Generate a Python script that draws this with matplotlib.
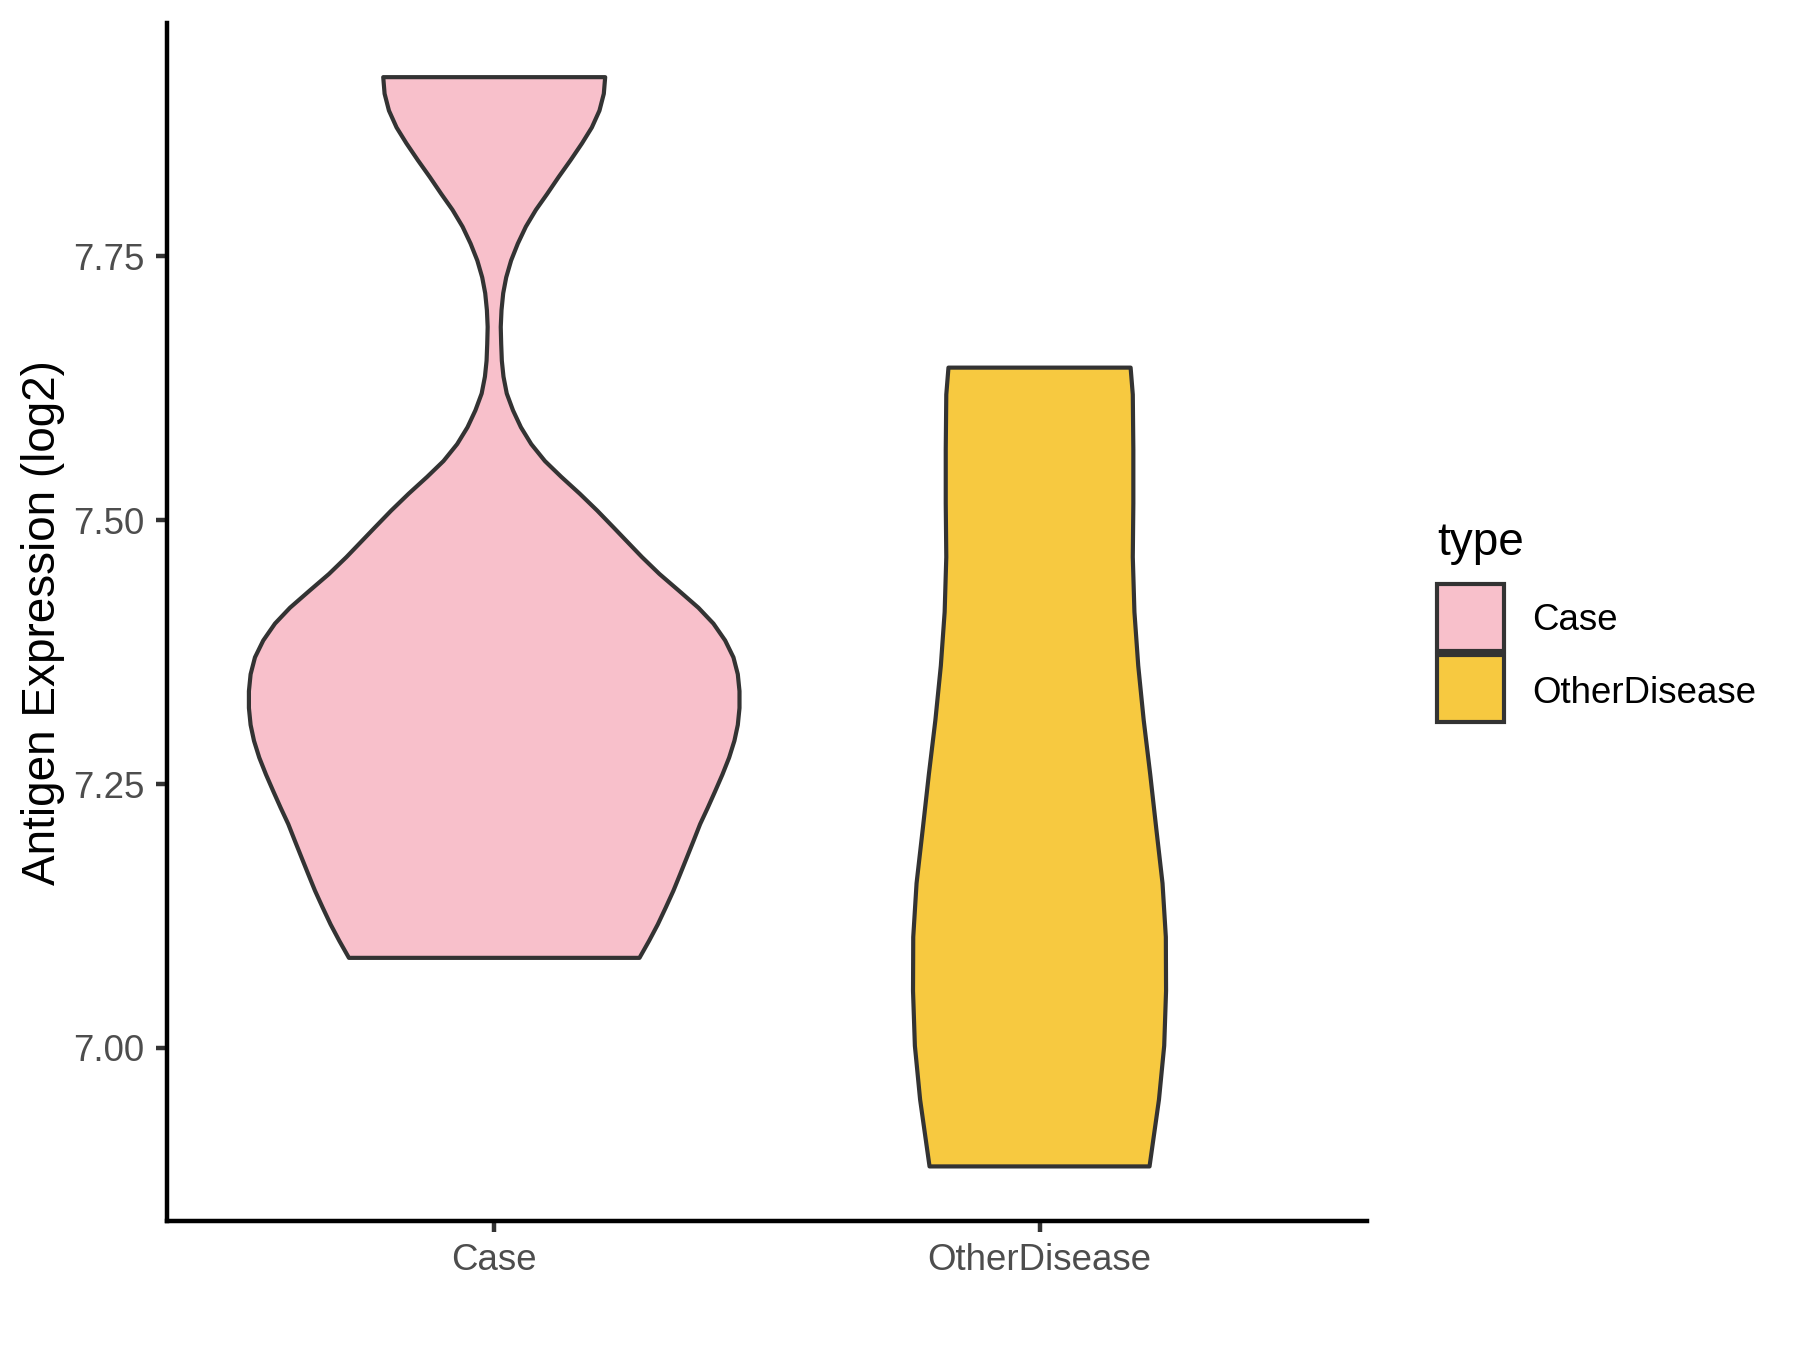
import numpy as np
import matplotlib
matplotlib.use("Agg")
import matplotlib.pyplot as plt
from matplotlib.patches import Rectangle

plt.rcParams['font.family'] = ['Liberation Sans', 'DejaVu Sans']

# groups and their fill colours
groups = ["Case", "OtherDisease"]
colors = ["#F8C0CB", "#F7C940"]

# violin outlines: y value -> half width (x units)
case_y = [7.0853, 7.1014, 7.117, 7.133, 7.149, 7.1646, 7.180, 7.196, 7.212,
          7.2275, 7.243, 7.259, 7.275, 7.291, 7.306, 7.322, 7.338, 7.354,
          7.370, 7.386, 7.402, 7.417, 7.433, 7.449, 7.465, 7.4806, 7.493,
          7.509, 7.525, 7.541, 7.556, 7.572, 7.588, 7.604, 7.620, 7.636,
          7.651, 7.667, 7.683, 7.699, 7.715, 7.730, 7.746, 7.762, 7.778,
          7.794, 7.809, 7.825, 7.841, 7.857, 7.872, 7.888, 7.904, 7.9197]
case_w = [0.2664, 0.284, 0.300, 0.3146, 0.3287, 0.341, 0.353, 0.3654, 0.3776,
          0.3916, 0.405, 0.4185, 0.4308, 0.4405, 0.4467, 0.4498, 0.4498, 0.4467,
          0.4387, 0.4235, 0.402, 0.3745, 0.339, 0.303, 0.271, 0.242, 0.219,
          0.189, 0.157, 0.123, 0.093, 0.068, 0.049, 0.0345, 0.023, 0.017,
          0.014, 0.0128, 0.012, 0.0134, 0.0165, 0.022, 0.031, 0.0433, 0.058,
          0.0765, 0.097, 0.118, 0.140, 0.161, 0.179, 0.193, 0.201, 0.2035]

other_y = [6.8877, 6.951, 7.002, 7.054, 7.105, 7.156, 7.208, 7.259, 7.3105,
           7.362, 7.413, 7.465, 7.516, 7.567, 7.619, 7.6445]
other_w = [0.2017, 0.219, 0.2286, 0.232, 0.2316, 0.2255, 0.214, 0.203, 0.191,
           0.181, 0.174, 0.171, 0.172, 0.172, 0.171, 0.167]

profiles = [(case_y, case_w), (other_y, other_w)]
yticks = [7.00, 7.25, 7.50, 7.75]

fig = plt.figure(figsize=(6, 4.5), dpi=300)
ax = fig.add_axes([0.09278, 0.09556, 0.7593 - 0.09278, 0.98319 - 0.09556])

edge = "#333333"
for i, (yy, ww) in enumerate(profiles):
    pos = i + 1
    yy = np.array(yy)
    ww = np.array(ww)
    xs = np.concatenate([pos + ww, (pos - ww)[::-1]])
    ys = np.concatenate([yy, yy[::-1]])
    ax.fill(xs, ys, facecolor=colors[i], edgecolor=edge, linewidth=1.0,
            joinstyle='round')

ax.set_xlim(0.4, 2.6)
ax.set_ylim(6.836, 7.9713)
ax.set_xticks([1, 2])
ax.set_xticklabels(groups)
ax.set_yticks(yticks)
ax.set_yticklabels([f"{t:.2f}" for t in yticks])

for s in ["top", "right"]:
    ax.spines[s].set_visible(False)
for s in ["left", "bottom"]:
    ax.spines[s].set_linewidth(1.07)
    ax.spines[s].set_color("black")
ax.tick_params(axis='both', length=2.75, width=1.07, color=edge,
               labelcolor="#4D4D4D", labelsize=8.8, pad=2.6)

fig.text(43 / 1800, 0.5385, "Antigen Expression (log2)", rotation=90,
         ha='center', va='center', fontsize=11, color='black')

# legend drawn by hand in figure coords
def fx(px):
    return px / 1800

def fy(py):
    return (1350 - py) / 1350

fig.text(fx(1437), fy(555), "type", fontsize=11, ha='left', va='baseline')
key_tops = [584, 655]
label_base = [630, 703]
for i, g in enumerate(groups):
    r = Rectangle((fx(1437), fy(key_tops[i] + 67)), 67 / 1800, 67 / 1350,
                  transform=fig.transFigure, facecolor=colors[i],
                  edgecolor=edge, linewidth=1.0)
    fig.patches.append(r)
    fig.text(fx(1532), fy(label_base[i]), g, fontsize=8.8, ha='left',
             va='baseline')

fig.savefig("out.png", dpi=300)
